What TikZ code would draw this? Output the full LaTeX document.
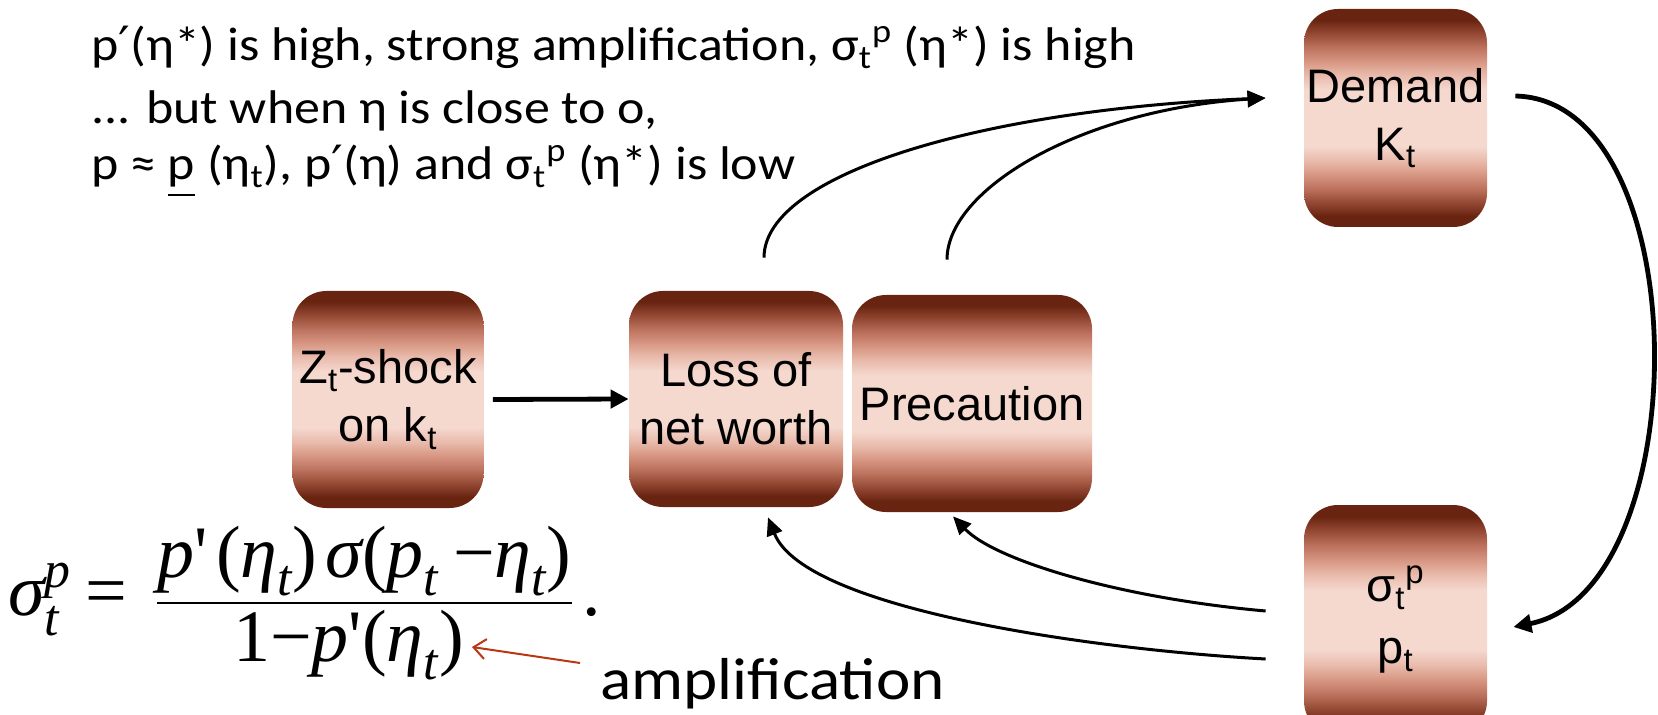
\documentclass[tikz,border=0pt]{standalone}
\usepackage{fontspec}
\usepackage{amsmath}
\setmainfont{Liberation Sans}
\newfontfamily\cbl[FakeStretch=1.1]{Carlito}
\newfontfamily\dvs[FakeStretch=1.1]{DejaVu Sans}
\newfontfamily\tms{Liberation Serif}
\usetikzlibrary{arrows.meta}
\definecolor{bdark}{RGB}{104,36,16}
\definecolor{bdk}{RGB}{140,65,45}
\definecolor{bmed}{RGB}{185,110,90}
\definecolor{bpink}{RGB}{215,150,130}
\definecolor{bpale}{RGB}{232,185,170}
\definecolor{blight}{RGB}{245,216,206}
\definecolor{ampred}{RGB}{185,55,20}
\pgfdeclareverticalshading{boxshade}{100bp}{color(0bp)=(bdark); color(25bp)=(bdark); color(27.5bp)=(bdark); color(30bp)=(bdk); color(33.5bp)=(bmed); color(37bp)=(bpink); color(40bp)=(bpale); color(43.5bp)=(blight); color(56.5bp)=(blight); color(60bp)=(bpale); color(63bp)=(bpink); color(66.5bp)=(bmed); color(70bp)=(bdk); color(72.5bp)=(bdark); color(75bp)=(bdark); color(100bp)=(bdark)}
\newcommand{\mi}[1]{\text{\tms\itshape #1}}
\newcommand{\mr}[1]{\text{\tms #1}}
\newcommand{\prm}{{\dvs ′}}
\tikzset{
  box/.style={rounded corners=17pt, shading=boxshade, inner sep=0pt, align=center,
    font=\fontsize{23.5}{29}\selectfont},
  toptext/.style={anchor=base west, inner sep=0pt, font=\cbl\fontsize{23.6}{28}\selectfont},
  arr/.style={line width=1.5pt, -{Triangle[length=9pt,width=8pt]}},
  thickarr/.style={line width=2.4pt, -{Triangle[length=9pt,width=9pt]}},
  redarr/.style={draw=ampred, line width=1pt, -{Straight Barb[length=6pt,width=10pt]}},
}
\begin{document}
\begin{tikzpicture}[x=0.5pt,y=-0.5pt]
\useasboundingbox (0,0) rectangle (1658,715);
% boxes
\node[box, minimum width=91.5pt, minimum height=109pt] (dem) at (1395.5,118) {Demand\\K\textsubscript{t}};
\node[box, minimum width=95.5pt, minimum height=108.5pt] (z) at (388,399.5) {Z\textsubscript{t}-shock\\on k\textsubscript{t}};
\node[box, minimum width=107pt, minimum height=108pt] (loss) at (736,399) {Loss of\\net worth};
\node[box, minimum width=120pt, minimum height=108.5pt] (prec) at (972,403.5) {Precaution};
\node[box, minimum width=91.5pt, minimum height=115pt] (sp) at (1395.5,620) {σ\textsubscript{t}\textsuperscript{p}\\[2pt]p\textsubscript{t}};
% top text
\node[toptext] (l1) at (91,61) {p\prm(η*) is high, strong amplification, σ\textsubscript{t}\textsuperscript{p} (η*) is high};
\node[toptext] (l2) at (91,124) {... but when η is close to o,};
\node[toptext] (l3) at (91,180) {p ≈ \underline{p} (η\textsubscript{t}), p\prm(η) and σ\textsubscript{t}\textsuperscript{p} (η*) is low};
% formula
\node[anchor=west, inner sep=0pt] (eq) at (8,603) {\fontsize{37}{44}\selectfont
$\displaystyle \mi{σ}_{\mi{t}}^{\mi{p}}\mathrel{\mr{=}}\;\frac{\mi{p}\mr{'}\,\mr{(}\mi{η}_{\mi{t}}\mr{)}\,\mi{σ}\mr{(}\mi{p}_{\mi{t}}\;\mr{−}\mi{η}_{\mi{t}}\mr{)}}{\mr{1}\mr{−}\mi{p}\mr{'}\mr{(}\mi{η}_{\mi{t}}\mr{)}\hspace{16pt}}\,\mr{.}$};
\node[anchor=base west, inner sep=0pt, font=\cbl\fontsize{29.6}{34}\selectfont] (amp) at (600,699) {amplification};
% coordinates
\coordinate (lossout) at ([xshift=14pt,yshift=16.5pt]loss.north);
\coordinate (precout) at ([xshift=-12.5pt,yshift=17.5pt]prec.north);
\coordinate (demin) at ([xshift=-19pt,yshift=10pt]dem.west);
\coordinate (demout) at ([xshift=14pt,yshift=11pt]dem.east);
\coordinate (spin) at ([xshift=13pt,yshift=-3.5pt]sp.east);
\coordinate (spo1) at ([xshift=-19pt,yshift=4.5pt]sp.west);
\coordinate (spo2) at ([xshift=-19pt,yshift=-19.5pt]sp.west);
\coordinate (precin) at ([xshift=-9.5pt,yshift=-2pt]prec.south);
\coordinate (lossin) at ([xshift=16pt,yshift=-5pt]loss.south);
\coordinate (ampfrom) at ([xshift=-10pt,yshift=18pt]amp.base west);
\coordinate (ampto) at (472,647);
% connectors
\draw[thickarr] ([xshift=4.5pt]z.east) -- (loss.west);
\draw[arr] (lossout) .. controls +(0,-83) and +(-286,12) .. (demin);
\draw[arr] (precout) .. controls +(0,-70) and +(-186,12) .. (demin);
\draw[thickarr] (demout) .. controls +(183,4) and +(185,-37) .. (spin);
\draw[arr] (spo1) .. controls +(-146,-13) and +(42,44) .. (precin);
\draw[arr] (spo2) .. controls +(-166,-9) and +(37,93) .. (lossin);
\draw[redarr] (ampfrom) -- (ampto);
\end{tikzpicture}
\end{document}
